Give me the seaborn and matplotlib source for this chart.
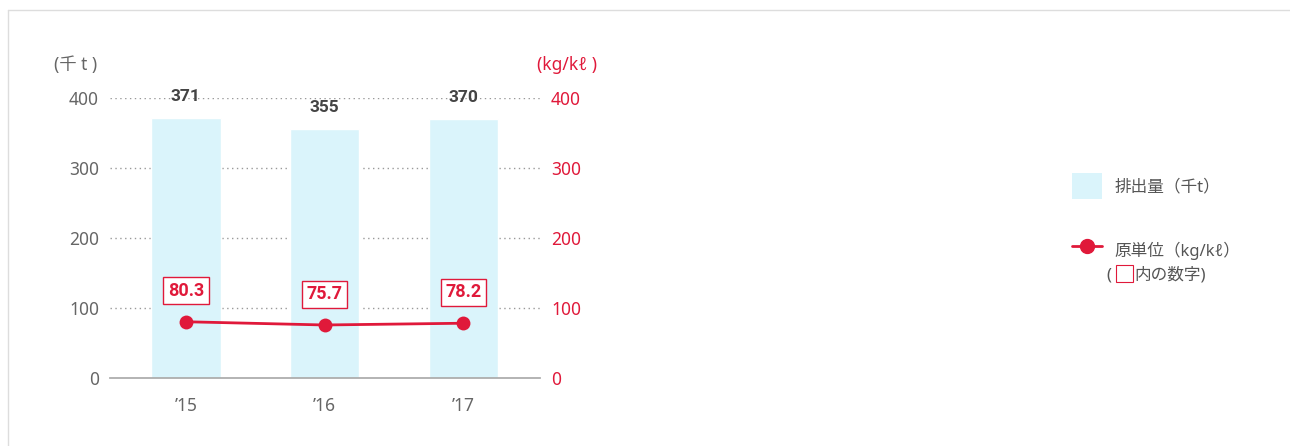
import matplotlib
matplotlib.use('Agg')
import matplotlib.pyplot as plt
import seaborn as sns
import numpy as np
import pandas as pd
from matplotlib.patches import Patch, Rectangle
from matplotlib.lines import Line2D

years = ["’15", "’16", "’17"]
emissions = [371, 355, 370]          # 排出量（千t）
intensity = [80.3, 75.7, 78.2]       # 原単位（kg/kℓ）
yticks = [0, 100, 200, 300, 400]

BAR = "#daf4fb"
RED = "#e0193a"
GREY = "#666666"

sns.set_theme(style="white")
plt.rcParams['font.family'] = ['Noto Sans', 'Noto Sans CJK JP', 'DejaVu Sans']

df = pd.DataFrame({"year": years, "emissions": emissions, "intensity": intensity})

fig = plt.figure(figsize=(12.9, 4.46), dpi=100)
ax = fig.add_axes([0.0853, 0.1525, 0.3333, 0.628])

sns.barplot(data=df, x="year", y="emissions", color=BAR, width=0.5,
            saturation=1, ax=ax, zorder=2)
ax.set_ylim(0, 400)
ax.set_xlim(-0.547, 2.554)
ax.set_yticks(yticks)
for y in yticks[1:]:
    ax.axhline(y, color="#999999", lw=1, ls=(0, (1, 2.5)), zorder=1)

for i, v in enumerate(emissions):
    ax.text(i, v + 20, str(v), ha="center", va="bottom", fontsize=12.5,
            fontweight="bold", color="#444444", clip_on=False,
            family=['Roboto', 'DejaVu Sans'])

for s in ["top", "right", "left"]:
    ax.spines[s].set_visible(False)
ax.spines["bottom"].set_color("#aaaaaa")
ax.set_xlabel("")
ax.set_ylabel("")
ax.tick_params(axis="x", length=0, labelsize=12.5, labelcolor=GREY, pad=14)
ax.tick_params(axis="y", length=0, labelsize=12.5, labelcolor=GREY, pad=8)

ax2 = ax.twinx()
ax2.set_ylim(0, 400)
ax2.set_yticks(yticks)
sns.lineplot(x=np.arange(len(years)), y=intensity, color=RED, lw=2,
             marker="o", markersize=10, markeredgewidth=0, ax=ax2, zorder=4)
for i, v in enumerate(intensity):
    ax2.text(i, v + 44, f"{v}", ha="center", va="center", fontsize=13,
             fontweight="bold", color=RED, family=['Roboto', 'DejaVu Sans'],
             bbox=dict(boxstyle="square,pad=0.25", fc="white", ec=RED, lw=1))
for s in ["top", "right", "left", "bottom"]:
    ax2.spines[s].set_visible(False)
ax2.tick_params(axis="y", length=0, labelsize=12.5, labelcolor=RED, pad=8)
ax2.set_ylabel("")

fig.text(0.042, 0.854, "(千 t )", fontsize=12.5, color=GREY, va="center")
fig.text(0.416, 0.854, "(kg/kℓ )", fontsize=12.5, color=RED, va="center")

handles = [Patch(facecolor=BAR, edgecolor="none"),
           Line2D([0], [0], color=RED, lw=2, marker="o", markersize=10)]
fig.legend(handles, ["排出量（千t）", "原単位（kg/kℓ）"], loc="upper left",
           bbox_to_anchor=(0.819, 0.645), frameon=False, fontsize=12,
           labelcolor="#555555", handlelength=1.8, handleheight=2.0,
           labelspacing=2.3, handletextpad=0.8)
fig.text(0.8575, 0.382, "(", fontsize=12, color="#555555", va="center")
fig.text(0.8795, 0.382, "内の数字)", fontsize=12, color="#555555", va="center")
fig.patches.append(Rectangle((0.8655, 0.367), 0.0125, 0.038, transform=fig.transFigure,
                             fill=False, ec=RED, lw=0.8))

# light frame around the chart
fig.add_artist(Line2D([0.0065, 0.0065], [0, 0.977], color="#dddddd", lw=1,
                      transform=fig.transFigure))
fig.add_artist(Line2D([0.0065, 1], [0.977, 0.977], color="#dddddd", lw=1,
                      transform=fig.transFigure))

plt.savefig("out.png", dpi=100)
plt.close()
